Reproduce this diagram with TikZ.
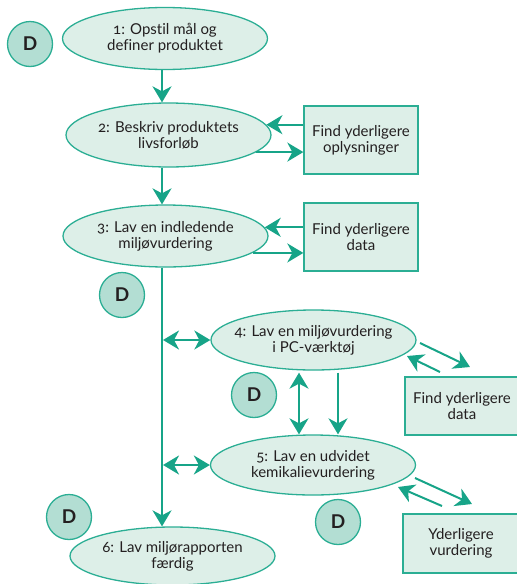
\documentclass[tikz,border=0pt]{standalone}
\usepackage{fontspec}
\setmainfont[Numbers=OldStyle,Ligatures=NoCommon]{Lato}
\usetikzlibrary{shapes.geometric,arrows.meta}
\definecolor{teal1}{HTML}{17A488}
\definecolor{tealline}{HTML}{2BAE94}
\definecolor{mint}{HTML}{DDEFE8}
\definecolor{dfill}{HTML}{B3DED3}
\definecolor{txt}{HTML}{231F20}
\newcommand\ctl[1]{\makebox[0pt]{#1}}
\begin{document}
\begin{tikzpicture}[x=1pt,y=-1pt,
  every node/.style={text=txt},
  stepell/.style={ellipse, draw=tealline, fill=mint, line width=1.3pt, minimum width=205pt, minimum height=62pt, inner sep=0pt, align=center, font=\fontsize{15}{16}\selectfont},
  infobox/.style={rectangle, draw=tealline, fill=mint, line width=1.3pt, inner sep=0pt, align=center, font=\fontsize{15}{16}\selectfont},
  dcirc/.style={circle, draw=tealline, fill=dfill, line width=1.3pt, minimum size=45pt, inner sep=0pt, font=\fontsize{19}{19}\selectfont\bfseries},
  arr/.style={draw=teal1, line width=2pt, -{Stealth[length=16pt,width=19pt,inset=5pt]}},
  darr/.style={draw=teal1, line width=2pt, {Stealth[length=16pt,width=19pt,inset=5pt]}-{Stealth[length=16pt,width=19pt,inset=5pt]}}
]
\useasboundingbox (0,0) rectangle (517,584);

\node[stepell] (e1) at (165,38.5) {\ctl{1: Opstil mål og}\\\ctl{definer produktet}};
\node[stepell, minimum height=64pt] (e2) at (168.5,135) {\ctl{2: Beskriv produktets}\\\ctl{livsforløb}};
\node[stepell] (e3) at (165.5,236) {\ctl{3: Lav en indledende}\\\ctl{miljøvurdering}};
\node[stepell, minimum height=60pt] (e4) at (313.5,340) {\ctl{4: Lav en miljøvurdering}\\\ctl{i PC-værktøj}};
\node[stepell, minimum height=60pt] (e5) at (313,465) {\ctl{5: Lav en udvidet}\\\ctl{kemikalievurdering}};
\node[stepell, minimum height=58pt] (e6) at (172.5,556) {\ctl{6: Lav miljørapporten}\\\ctl{færdig}};

\node[infobox, minimum width=114pt, minimum height=68pt] (b1) at (361,140) {Find yderligere\\oplysninger};
\node[infobox, minimum width=114pt, minimum height=68pt] (b2) at (361,237) {Find yderligere\\data};
\node[infobox, minimum width=114pt, minimum height=58pt] (b3) at (462,406) {Find yderligere\\data};
\node[infobox, minimum width=116pt, minimum height=59pt] (b4) at (461,543.5) {Yderligere\\vurdering};

\node[dcirc] (d1) at (30,44) {D};
\node[dcirc] (d2) at (122,295) {D};
\node[dcirc] (d3) at (254,395) {D};
\node[dcirc] (d4) at (69,517) {D};
\node[dcirc] (d5) at (338,522) {D};

\coordinate (spine) at (162,0);
\coordinate (v1) at (299,0);
\coordinate (v2) at (338,0);

\draw[arr] (e1.south -| spine) -- (e2.north -| spine);
\draw[arr] (e2.south -| spine) -- (e3.north -| spine);
\draw[arr] (e3.south -| spine) -- (e6.north -| spine);

\draw[arr] (e2.6.5 -| b1.west) -- (e2.6.5);
\draw[arr] (e2.-11) -- (e2.-11 -| b1.west);
\draw[arr] (e3.5.5 -| b2.west) -- (e3.5.5);
\draw[arr] (e3.-11) -- (e3.-11 -| b2.west);

\draw[darr] ([xshift=1pt]spine |- e4.west) -- (e4.west);
\draw[darr] ([xshift=1pt]spine |- e5.west) -- (e5.west);

\draw[darr] ([yshift=-2pt]e4.south -| v1) -- (e5.north -| v1);
\draw[arr] ([yshift=-2pt]e4.south -| v2) -- (e5.north -| v2);

\coordinate (p1) at (420,343);
\coordinate (p2) at (470,367);
\coordinate (p3) at (440,372);
\coordinate (p4) at (407,356);
\coordinate (p5) at (415,478);
\coordinate (p6) at (472,504);
\coordinate (p7) at (442,506);
\coordinate (p8) at (398,487);
\draw[arr] (p1) -- (p2);
\draw[arr] (p3) -- (p4);
\draw[arr] (p5) -- (p6);
\draw[arr] (p7) -- (p8);
\end{tikzpicture}
\end{document}
